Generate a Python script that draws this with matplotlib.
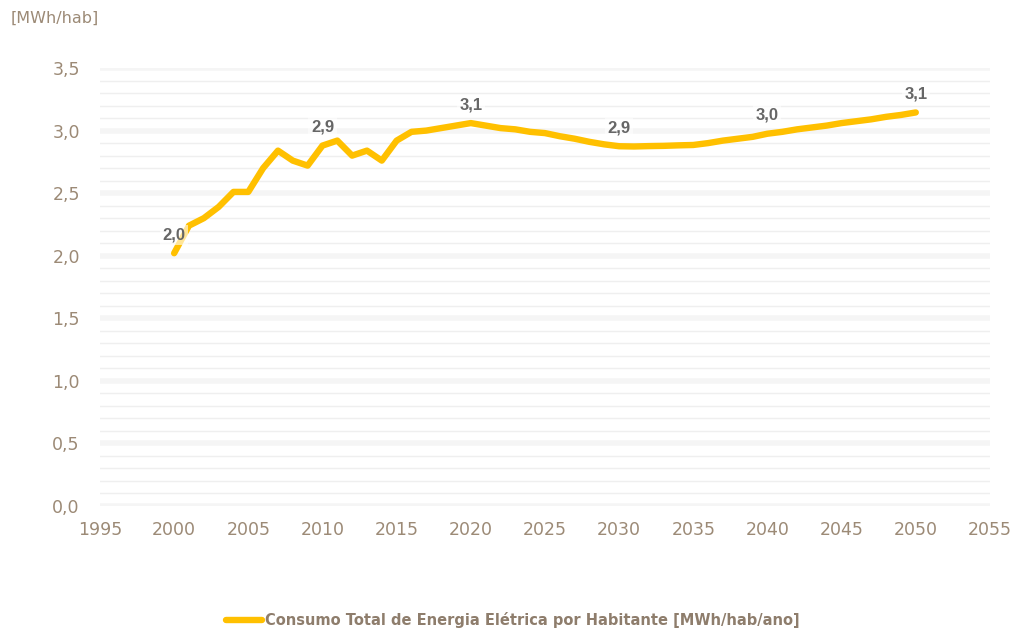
import matplotlib
matplotlib.use("Agg")
import matplotlib.pyplot as plt
from matplotlib.ticker import MultipleLocator, FuncFormatter

# Per-capita electricity consumption, history and projection
years = list(range(2000, 2051))
consumo = [
    2.02, 2.24, 2.30, 2.39, 2.51, 2.51, 2.70, 2.84, 2.76, 2.72,   # 2000-2009
    2.88, 2.92, 2.80, 2.84, 2.76, 2.92, 2.99, 3.00, 3.02, 3.04,   # 2010-2019
    3.06, 3.04, 3.02, 3.01, 2.99, 2.98, 2.955, 2.935, 2.91, 2.89, # 2020-2029
    2.875, 2.873, 2.876, 2.878, 2.882, 2.885, 2.90, 2.92, 2.935, 2.95,  # 2030-2039
    2.975, 2.99, 3.01, 3.025, 3.04, 3.06, 3.075, 3.09, 3.11, 3.125,  # 2040-2049
    3.145,                                                        # 2050
]
label_years = [2000, 2010, 2020, 2030, 2040, 2050]
x_ticks = list(range(1995, 2056, 5))
serie_nome = "Consumo Total de Energia Elétrica por Habitante [MWh/hab/ano]"
unidade = "[MWh/hab]"

LINE = "#FFC000"
TAUPE = "#9C8A76"
LEGEND_TXT = "#8E7D6C"
LABEL_TXT = "#666666"

plt.rcParams["font.family"] = ["DejaVu Sans"]

fig = plt.figure(figsize=(10.17, 6.31), dpi=100)
ax = fig.add_axes([0.0983, 0.1981, 0.8751, 0.6941])

ax.set_xlim(1995, 2055)
ax.set_ylim(0, 3.5)

# gridlines: light bands at every 0.5, thin lines every 0.1
ax.yaxis.set_major_locator(MultipleLocator(0.5))
ax.yaxis.set_minor_locator(MultipleLocator(0.1))
ax.grid(axis="y", which="major", color="#F5F5F5", linewidth=4, zorder=0)
ax.grid(axis="y", which="minor", color="#EFEFEF", linewidth=1, zorder=0)
ax.set_axisbelow(True)

ax.set_xticks(x_ticks)
ax.yaxis.set_major_formatter(FuncFormatter(lambda v, p: f"{v:.1f}".replace(".", ",")))
ax.tick_params(axis="both", which="both", length=0, colors=TAUPE, labelsize=12.5)
ax.tick_params(axis="y", pad=14.5)
ax.tick_params(axis="x", pad=11)
for s in ax.spines.values():
    s.set_visible(False)

line, = ax.plot(years, consumo, color=LINE, linewidth=4.6,
                solid_capstyle="round", solid_joinstyle="round", zorder=3,
                label=serie_nome)

for yr in label_years:
    v = consumo[years.index(yr)]
    ax.annotate(f"{v:.1f}".replace(".", ","), xy=(yr, v), xytext=(0, 13.3),
                textcoords="offset points", ha="center", va="center",
                fontsize=12, fontweight="bold", color=LABEL_TXT, zorder=4,
                family="Liberation Sans",
                bbox=dict(boxstyle="square,pad=0.15", fc="white", ec="none", alpha=0.6))

fig.text(0.010, 0.971, unidade, color=TAUPE, fontsize=11.5, ha="left", va="center")

leg = fig.legend(handles=[line], loc="center", bbox_to_anchor=(0.504, 0.017),
                 frameon=False, handlelength=2.5, handletextpad=0.15,
                 prop={"weight": "bold", "size": 10.5, "family": "DejaVu Sans"})
for t in leg.get_texts():
    t.set_color(LEGEND_TXT)

fig.savefig("out.png", dpi=100)
